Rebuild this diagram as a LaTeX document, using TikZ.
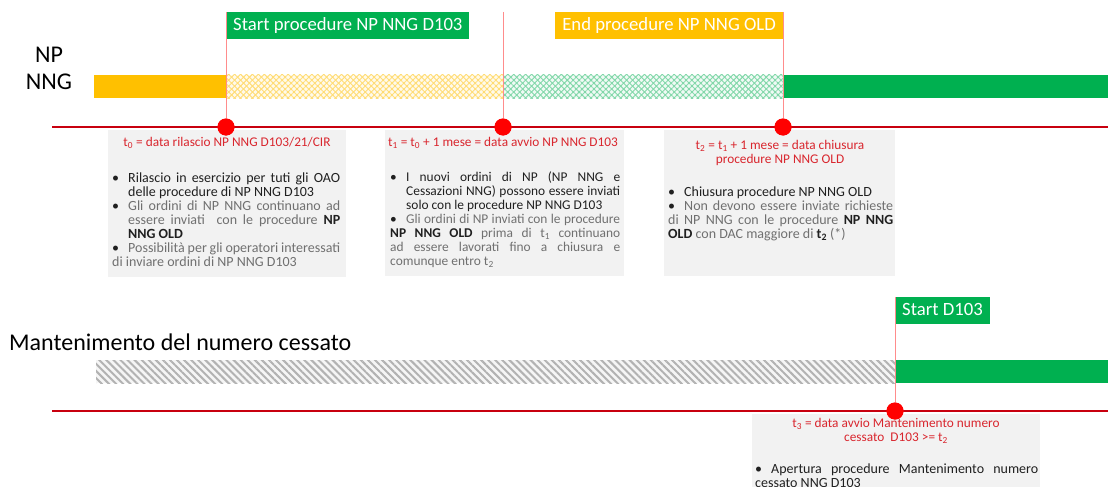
\documentclass[tikz,border=0pt]{standalone}
\usepackage{fontspec}
\setmainfont{Carlito}
\usetikzlibrary{patterns.meta,positioning}

\definecolor{npYellow}{HTML}{FFC000}
\definecolor{npGreen}{HTML}{00B050}
\definecolor{lineRed}{HTML}{C8000F}
\definecolor{dotRed}{HTML}{FF0000}
\definecolor{headRed}{HTML}{D9262E}
\definecolor{boxGray}{HTML}{F2F2F2}
\definecolor{txtGray}{HTML}{707070}
\definecolor{txtDark}{HTML}{202020}

% bullet line with hanging indent
\newcommand{\bul}[1]{\par\hangindent=16pt\hangafter=1\noindent\makebox[16pt][l]{\textcolor{txtDark}{\textbullet}}#1}
\newcommand{\dk}[1]{\textcolor{txtDark}{#1}}
\newcommand{\bd}[1]{\textcolor{txtDark}{\bfseries #1}}
\newcommand{\sub}[1]{\textsubscript{#1}}
\newcommand{\nohyph}{\hyphenpenalty=10000\relax\tolerance=9999\relax}

\tikzset{
  tag/.style={fill=#1, text=white, font=\fontsize{18.7}{22}\selectfont, inner xsep=7pt,
    minimum height=27pt, text height=13pt, text depth=4pt},
  dot/.style={circle, fill=dotRed, minimum size=17pt, inner sep=0pt},
  mark line/.style={draw=red!45, line width=0.8pt},
  timeline/.style={draw=lineRed, line width=2.4pt},
  infobox/.style={fill=boxGray, anchor=north west, inner sep=0pt},
  head/.style={text=headRed, font=\fontsize{13.3}{14}\selectfont, align=center, inner sep=0pt},
  bullets/.style={text width=#1, align=justify,
    font=\fontsize{14}{14}\selectfont\nohyph,
    inner sep=0pt, anchor=north west, text=txtGray},
  rowlabel/.style={font=\fontsize{24}{27}\selectfont, text=black, inner sep=0pt},
  lattice/.style={pattern={Lines[angle=45, distance=4.2pt, line width=0.9pt]}, pattern color=#1},
  lattice2/.style={pattern={Lines[angle=-45, distance=4.2pt, line width=0.9pt]}, pattern color=#1},
  stripes/.style={pattern={Lines[angle=-45, distance=5pt, line width=2pt]}, pattern color=black!30},
}

\begin{document}
\begin{tikzpicture}[x=1pt,y=-1pt]
\useasboundingbox (0,0) rectangle (1108,487);

% grey info boxes
\node[infobox, minimum width=238pt, minimum height=147pt] (box0) at (108,130) {};
\node[infobox, minimum width=239pt, minimum height=146pt] (box1) at (385,130) {};
\node[infobox, minimum width=231pt, minimum height=146pt] (box2) at (664,130) {};
\node[infobox, minimum width=288pt, minimum height=73pt] (box3) at (752,414) {};

% the bars of NP NNG
\fill[npYellow] (94,75) rectangle (226,98);
\fill[npYellow!8] (226,75) rectangle (503,98);
\fill[lattice=npYellow!55] (226,75) rectangle (503,98);
\fill[lattice2=npYellow!55] (226,75) rectangle (503,98);
\fill[npGreen!6] (503,75) rectangle (783,98);
\fill[lattice=npGreen!50] (503,75) rectangle (783,98);
\fill[lattice2=npGreen!50] (503,75) rectangle (783,98);
\fill[npGreen] (783,75) rectangle (1108,98);

% the bars of the numero cessato
\fill[black!4] (96,360) rectangle (895,383);
\fill[stripes] (96,360) rectangle (895,383);
\fill[npGreen] (895,360) rectangle (1108,383);

% timelines
\coordinate (line0 start) at (52,127);
\coordinate (line0 end) at (1108,127);
\coordinate (line1 start) at (52,411);
\coordinate (line1 end) at (1108,411);
\draw[timeline] (line0 start) -- (line0 end);
\draw[timeline] (line1 start) -- (line1 end);

% tags on top
\node[tag=npGreen, anchor=north west] (start tag) at (226,12) {Start procedure NP NNG D103};
\node[tag=npYellow, anchor=north east] (end tag) at (783,12) {End procedure NP NNG OLD};
\node[tag=npGreen, anchor=north west] (d103 tag) at (895,297) {Start D103};
\coordinate (t1 top) at (503,12);

% milestones
\node[dot] (t0) at (226,127) {};
\node[dot] (t1) at (503,127) {};
\node[dot] (t2) at (783,127) {};
\node[dot] (t3) at (895,411) {};
\draw[mark line] (start tag.north west) -- (t0.center);
\draw[mark line] (t1 top) -- (t1.center);
\draw[mark line] (end tag.north east) -- (t2.center);
\draw[mark line] (d103 tag.north west) -- (t3.center);
\node[dot] at (t0) {};
\node[dot] at (t1) {};
\node[dot] at (t2) {};
\node[dot] at (t3) {};

% row labels
\node[rowlabel, align=center] (np label) at (49,68) {NP\\NNG};
\node[rowlabel, anchor=west] (mnc label) at (9,342) {Mantenimento del numero cessato};

% texts under t0
\node[head] (head0) at (227,143) {t\sub{0} = data rilascio NP NNG D103/21/CIR};
\node[bullets=228pt] (text0) at (112,168) {%
  \bul{\dk{Rilascio in esercizio per tuti gli OAO delle procedure di NP NNG D103}}
  \bul{Gli ordini di NP NNG continuano ad essere inviati\ \ con le procedure \bd{NP NNG OLD}}
  \bul{Possibilità per gli operatori interessati di inviare ordini di NP NNG D103}};

% texts under t1
\node[head] (head1) at (503,143) {t\sub{1} = t\sub{0} + 1 mese = data avvio NP NNG D103};
\node[bullets=230pt, font=\fontsize{13.4}{14}\selectfont\nohyph] (text1) at (390,167) {%
  \bul{\dk{I nuovi ordini di NP (NP NNG e\linebreak Cessazioni NNG) possono essere inviati\linebreak solo con le procedure NP NNG D103}}
  \bul{Gli ordini di NP inviati con le procedure \bd{NP NNG OLD} prima di t\sub{1} continuano ad essere lavorati fino a chiusura e\linebreak comunque entro t\sub{2}}};

% texts under t2
\node[head] (head2) at (780,153) {t\sub{2} = t\sub{1} + 1 mese = data chiusura\\procedure NP NNG OLD};
\node[bullets=225pt] (text2) at (668,182) {%
  \bul{\dk{Chiusura procedure NP NNG OLD}}
  \bul{Non devono essere inviate richieste di NP NNG con le procedure \bd{NP NNG OLD} con DAC maggiore di \bd{t\sub{2}} (*)}};

% texts under t3
\node[head] (head3) at (896,431) {t\sub{3} = data avvio Mantenimento numero\\cessato\ \ D103 >= t\sub{2}};
\node[bullets=283pt] (text3) at (755,459) {%
  \bul{\dk{Apertura procedure Mantenimento numero cessato NNG D103}}};

\end{tikzpicture}
\end{document}
